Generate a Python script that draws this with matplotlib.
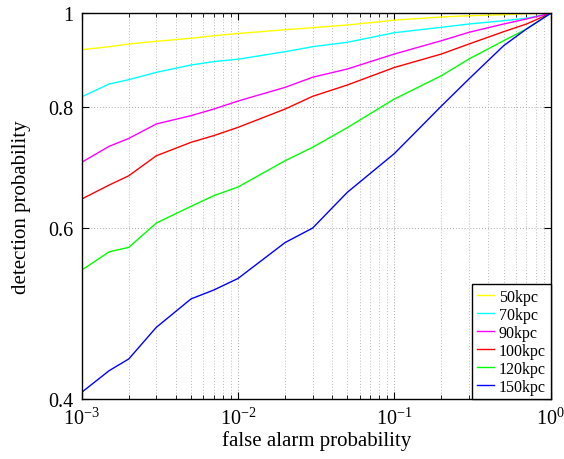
import matplotlib
matplotlib.use("Agg")
import matplotlib.pyplot as plt
from matplotlib.ticker import FixedLocator, FixedFormatter, LogLocator, NullLocator, NullFormatter

plt.rcParams['font.family'] = ['Liberation Serif', 'DejaVu Serif']
plt.rcParams['mathtext.fontset'] = 'stix'

# false alarm probability (shared sample points)
far = [1e-3, 1.5e-3, 2e-3, 3e-3, 5e-3, 7e-3, 1e-2, 2e-2, 3e-2, 5e-2,
       0.1, 0.2, 0.3, 0.5, 0.7, 1.0]

det_50kpc = [0.9173, 0.9238, 0.9297, 0.9357, 0.9424, 0.9482, 0.9532, 0.9618,
             0.9664, 0.9726, 0.9838, 0.9913, 0.9943, 0.9967, 0.9991, 1.0]
det_70kpc = [0.8203, 0.8455, 0.8542, 0.8692, 0.8845, 0.8916, 0.8968, 0.9129,
             0.9238, 0.9335, 0.9550, 0.9673, 0.9749, 0.9826, 0.9882, 1.0]
det_90kpc = [0.7021, 0.7293, 0.7430, 0.7690, 0.7843, 0.7967, 0.8120, 0.8388,
             0.8592, 0.8761, 0.9079, 0.9370, 0.9559, 0.9749, 0.9866, 1.0]
det_100kpc = [0.6435, 0.6652, 0.6800, 0.7130, 0.7362, 0.7480, 0.7628, 0.7967,
              0.8211, 0.8435, 0.8793, 0.9079, 0.9297, 0.9573, 0.9749, 1.0]
det_120kpc = [0.5436, 0.5677, 0.5737, 0.6078, 0.6324, 0.6486, 0.6621, 0.7047,
              0.7275, 0.7623, 0.8159, 0.8623, 0.8972, 0.9370, 0.9634, 1.0]
det_150kpc = [0.4067, 0.4282, 0.4402, 0.4745, 0.5076, 0.5185, 0.5329, 0.5803,
              0.6006, 0.6538, 0.7168, 0.8025, 0.8557, 0.9260, 0.9634, 1.0]

labels = ['50kpc', '70kpc', '90kpc', '100kpc', '120kpc', '150kpc']
colors = ['#ffff00', '#00ffff', '#ff00ff', '#ff0000', '#00ff00', '#0000ff']
series = [det_50kpc, det_70kpc, det_90kpc, det_100kpc, det_120kpc, det_150kpc]

y_ticks = [0.4, 0.6, 0.8, 1.0]
y_ticklabels = ['0.4', '0.6', '0.8', '1']

fig = plt.figure(figsize=(5.64, 4.60), dpi=100)
ax = fig.add_axes([81.7 / 564, (460 - 400.3) / 460, 469 / 564, 386 / 460])

for y, lab, c in zip(series, labels, colors):
    ax.plot(far, y, color=c, lw=1.0, label=lab)

ax.set_xscale('log')
ax.set_yscale('log')
ax.set_xlim(1e-3, 1)
ax.set_ylim(0.4, 1)

ax.yaxis.set_major_locator(FixedLocator(y_ticks))
ax.yaxis.set_major_formatter(FixedFormatter(y_ticklabels))
ax.yaxis.set_minor_locator(NullLocator())
ax.yaxis.set_minor_formatter(NullFormatter())
ax.xaxis.set_major_locator(LogLocator(base=10, numticks=10))
ax.xaxis.set_minor_locator(LogLocator(base=10, subs=range(2, 10), numticks=20))
ax.xaxis.set_minor_formatter(NullFormatter())

ax.tick_params(which='both', direction='in', top=True, right=True, labelsize=14.5, pad=6)
ax.tick_params(which='major', length=5, width=0.8)
ax.tick_params(which='minor', length=3, width=0.6)

ax.grid(True, which='major', axis='both', linestyle=(0, (1, 2)), color='#a8a8a8', lw=0.7)
ax.grid(True, which='minor', axis='x', linestyle=(0, (1, 2)), color='#bcbcbc', lw=0.7)

for s in ax.spines.values():
    s.set_linewidth(1.0)

ax.set_xlabel('false alarm probability', fontsize=15, labelpad=1)
ax.set_ylabel('detection probability', fontsize=15, labelpad=12)

leg = ax.legend(loc='lower right', borderaxespad=0, fontsize=11.5, handlelength=1.1,
                handletextpad=0.3, labelspacing=0.12, borderpad=0.3, fancybox=False,
                framealpha=1, edgecolor='black')
leg.get_frame().set_linewidth(1.0)

fig.savefig('out.png', dpi=100)
